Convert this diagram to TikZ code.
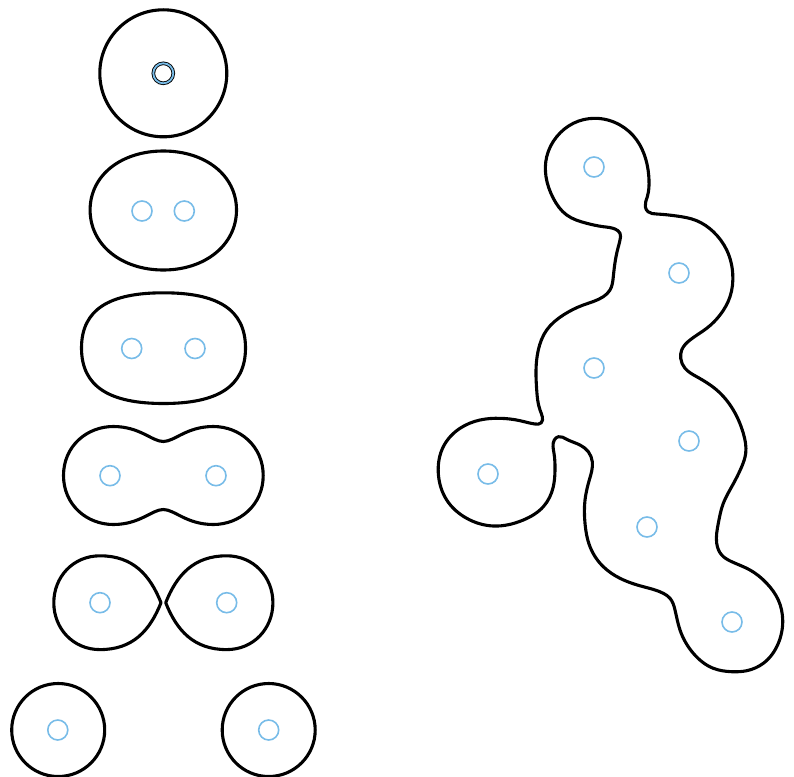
\documentclass[tikz,border=0pt]{standalone}
\usetikzlibrary{hobby}
\definecolor{chargeblue}{RGB}{120,188,232}
\tikzset{
  blob/.style={draw=black, line width=3.1pt, line join=round},
  charge/.style={circle, draw=chargeblue, line width=1.6pt, minimum size=20pt, inner sep=0pt},
  dcharge/.style={circle, draw=black, line width=3.6pt, minimum size=20pt, inner sep=0pt,
     postaction={draw=chargeblue, line width=1.8pt}}
}
\begin{document}
\begin{tikzpicture}[x=1pt, y=-1pt]
\useasboundingbox (0,0) rectangle (794,776);

% 1: double charge
\draw[blob] (163.3,73.3) circle (63.5);
\node[dcharge] (c1) at (163.3,73.3) {};

% 2
\draw[blob] (163.3,151) .. controls (205,151) and (236.5,175) .. (236.5,210)
  .. controls (236.5,245) and (205,270) .. (163.3,270)
  .. controls (121.6,270) and (90.1,245) .. (90.1,210)
  .. controls (90.1,175) and (121.6,151) .. cycle;
\node[charge] (c2a) at (142,211) {};
\node[charge] (c2b) at (184.3,211) {};

% 3
\draw[blob] (163.5,292.8) .. controls (217,292.8) and (245.5,309) .. (245.5,348)
  .. controls (245.5,387) and (217,403.5) .. (163.5,403.5)
  .. controls (110,403.5) and (81.5,387) .. (81.5,348)
  .. controls (81.5,309) and (110,292.8) .. cycle;
\node[charge] (c3a) at (131.7,348.5) {};
\node[charge] (c3b) at (195,348.5) {};

% 4
\draw[blob] (63.5,475.5) .. controls (63.5,446) and (87,426.5) .. (113.3,426.5)
  .. controls (140,426.5) and (152,441.5) .. (163.3,441.5)
  .. controls (174.6,441.5) and (186.6,426.5) .. (213.3,426.5)
  .. controls (239.6,426.5) and (263.2,446) .. (263.2,475.5)
  .. controls (263.2,505) and (239.6,524.5) .. (213.3,524.5)
  .. controls (186.6,524.5) and (174.6,509.5) .. (163.3,509.5)
  .. controls (152,509.5) and (140,524.5) .. (113.3,524.5)
  .. controls (87,524.5) and (63.5,505) .. cycle;
\node[charge] (c4a) at (110,475.7) {};
\node[charge] (c4b) at (216,475.7) {};

% 5
\draw[blob] (161,602.7) .. controls (150,575) and (133,555.8) .. (100,555.8)
  .. controls (73,555.8) and (53.8,577) .. (53.8,602.7)
  .. controls (53.8,628.4) and (73,649.6) .. (100,649.6)
  .. controls (133,649.6) and (150,630.4) .. cycle;
\draw[blob] (165.7,602.7) .. controls (176.7,575) and (193.7,555.8) .. (226.7,555.8)
  .. controls (253.7,555.8) and (272.9,577) .. (272.9,602.7)
  .. controls (272.9,628.4) and (253.7,649.6) .. (226.7,649.6)
  .. controls (193.7,649.6) and (176.7,630.4) .. cycle;
\node[charge] (c5a) at (100,602.7) {};
\node[charge] (c5b) at (226.7,602.7) {};

% 6
\draw[blob] (58.2,730) circle (46.5);
\draw[blob] (268.7,730) circle (46.5);
\node[charge] (c6a) at (57.8,730) {};
\node[charge] (c6b) at (268.7,730) {};

% right blob
\draw[blob, use Hobby shortcut, closed=true]
 (595,118.3) .. (620,125) .. (636.7,140) .. (646,160) .. (649,180) .. (647.3,196.7) .. (645.3,206.7)
 .. (648,211.7) .. (656.7,214) .. (676.7,216) .. (696.7,220.7) .. (713.3,231.7) .. (726.7,250)
 .. (732.7,273.3) .. (730,296.7) .. (720,315) .. (706.7,328.3) .. (690,340) .. (681.7,350)
 .. (680.7,358.3) .. (685,368.3) .. (696.7,376.7) .. (716.7,390) .. (733.3,410) .. (743.3,433.3)
 .. (745.7,453.3) .. (741.7,466.7) .. (731.7,486.7) .. (723.3,503.3) .. (718.3,523.3) .. (716.7,543.3)
 .. (721.7,555) .. (731.7,561.7) .. (750,570) .. (766.7,583.3) .. (778.3,600) .. (782.7,620)
 .. (778.3,643.3) .. (763.3,663.3) .. (746.7,670.7) .. (731.7,671.7) .. (713.3,668.3) .. (693.3,653.3)
 .. (680,630) .. (675,610) .. (670,598.3) .. (663.3,593.3) .. (643.3,586.7) .. (620,578.3)
 .. (603.3,566.7) .. (590,546.7) .. (585,523.3) .. (585,500) .. (589.3,480) .. (592.3,461.7)
 .. (588.3,451.7) .. (580,445) .. (566.7,439.3) .. (558.3,436.7) .. (554.3,440) .. (554,453.3)
 .. (555,470) .. (553.3,486.7) .. (543.3,506.7) .. (523.3,520) .. (493.3,526) .. (466.7,518.3)
 .. (446.7,500) .. (438.3,473.3) .. (443.3,446.7) .. (460,428.3) .. (480,420) .. (500,418.3)
 .. (520,420.7) .. (535,424) .. (541.2,422.8) .. (542.3,416.7) .. (540,410) .. (536.7,390) .. (536,370)
 .. (538.3,350) .. (546.7,330) .. (563.3,315) .. (583.3,305) .. (603.3,296.7) .. (610,290)
 .. (613.3,276.7) .. (616.7,253.3) .. (620,240) .. (620,233.3) .. (615,229) .. (603.3,226.7)
 .. (586.7,223.3) .. (566.7,215) .. (553.3,198.3) .. (546,176.7) .. (546.7,156.7) .. (556.7,136.7)
 .. (573.3,123.3);
\node[charge] (r1) at (594,167) {};
\node[charge] (r2) at (679,273) {};
\node[charge] (r3) at (594,368) {};
\node[charge] (r4) at (488,474) {};
\node[charge] (r5) at (689,441) {};
\node[charge] (r6) at (647,527) {};
\node[charge] (r7) at (732,622) {};
\end{tikzpicture}
\end{document}
